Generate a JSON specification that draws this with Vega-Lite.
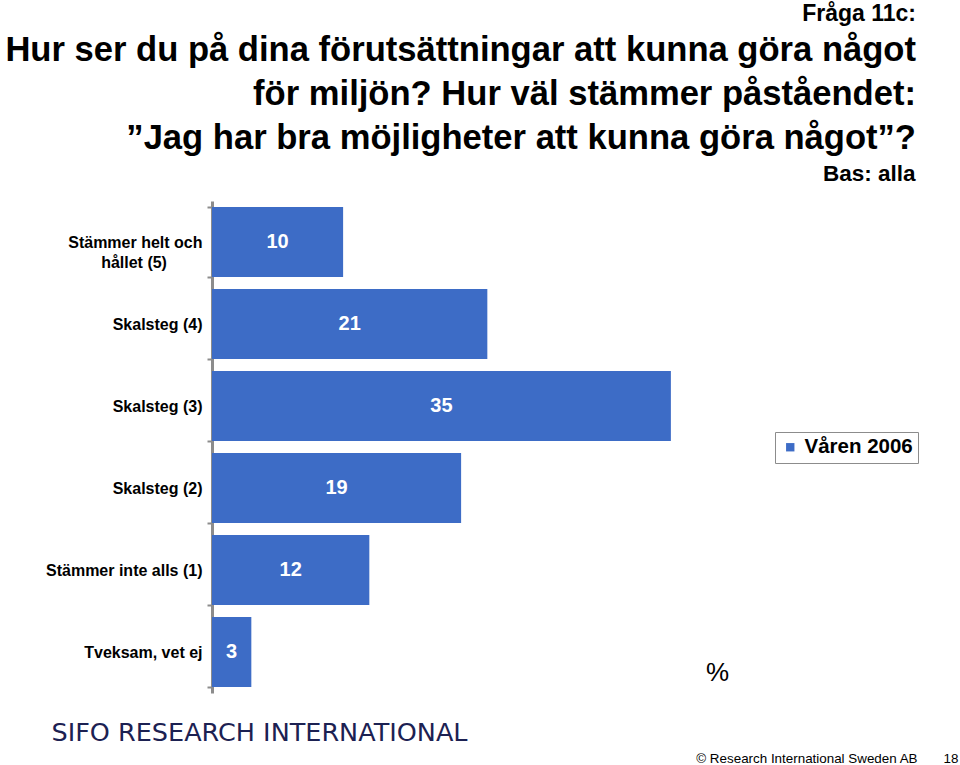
{
  "$schema": "https://vega.github.io/schema/vega-lite/v6.json",
  "width": 708,
  "height": 492,
  "autosize": {"type": "none"},
  "padding": {"left": 212, "top": 201, "right": 40, "bottom": 72},
  "background": "white",
  "title": {
    "text": "Fråga 11c:",
    "subtitle": ["Hur ser du på dina förutsättningar att kunna göra något", "för miljön? Hur väl stämmer påståendet:", "”Jag har bra möjligheter att kunna göra något”?"],
    "anchor": "end",
    "frame": "group",
    "orient": "top",
    "font": "Liberation Sans",
    "fontSize": 23,
    "fontWeight": "bold",
    "color": "black",
    "subtitleFont": "Liberation Sans",
    "subtitleFontSize": 34.6,
    "subtitleFontWeight": "bold",
    "subtitleColor": "black",
    "subtitleLineHeight": 44,
    "subtitlePadding": 8,
    "dx": -4,
    "offset": 6
  },
  "data": {
    "values": [
      {"kategori": "Stämmer helt och hållet (5)", "procent": 10, "serie": "Våren 2006"},
      {"kategori": "Skalsteg (4)", "procent": 21, "serie": "Våren 2006"},
      {"kategori": "Skalsteg (3)", "procent": 35, "serie": "Våren 2006"},
      {"kategori": "Skalsteg (2)", "procent": 19, "serie": "Våren 2006"},
      {"kategori": "Stämmer inte alls (1)", "procent": 12, "serie": "Våren 2006"},
      {"kategori": "Tveksam, vet ej", "procent": 3, "serie": "Våren 2006"}
    ]
  },
  "encoding": {
    "y": {
      "field": "kategori",
      "type": "nominal",
      "sort": null,
      "scale": {"paddingInner": 0.146, "paddingOuter": 0.073}
    }
  },
  "layer": [
    {
      "mark": {"type": "bar", "color": "#3d6cc6"},
      "encoding": {
        "x": {
          "field": "procent",
          "type": "quantitative",
          "scale": {"domain": [0, 54]},
          "axis": {
            "orient": "top",
            "labels": false,
            "ticks": false,
            "domain": false,
            "grid": false,
            "title": "Bas: alla",
            "titleFont": "Liberation Sans",
            "titleFontSize": 22.5,
            "titleFontWeight": "bold",
            "titleColor": "black",
            "titleAlign": "right",
            "titleBaseline": "middle",
            "titleX": 703,
            "titleY": -28
          }
        },
        "y": {
          "field": "kategori",
          "type": "nominal",
          "sort": null,
          "axis": {
            "orient": "left",
            "domainColor": "#8c8c8c",
            "domainWidth": 3,
            "tickColor": "#8c8c8c",
            "tickWidth": 2,
            "tickSize": 5,
            "tickBand": "extent",
            "labelPadding": 5,
            "labelFont": "Liberation Sans",
            "labelFontSize": 16,
            "labelFontWeight": "bold",
            "labelColor": "black",
            "labelLineHeight": 20,
            "labelLimit": 300,
            "labelExpr": "datum.value == 'Stämmer helt och hållet (5)' ? ['Stämmer helt och', 'hållet (5)\u00a0\u00a0\u00a0\u00a0\u00a0\u00a0\u00a0\u00a0\u200b'] : datum.value",
            "title": "SIFO RESEARCH INTERNATIONAL",
            "titleAngle": 0,
            "titleFont": "DejaVu Sans",
            "titleFontSize": 25.5,
            "titleFontWeight": "normal",
            "titleColor": "#1c2152",
            "titleAlign": "center",
            "titleBaseline": "middle",
            "titleX": 47,
            "titleY": 531
          }
        },
        "color": {
          "field": "serie",
          "type": "nominal",
          "scale": {"range": ["#3d6cc6"]},
          "legend": {
            "title": null,
            "orient": "none",
            "legendX": 563,
            "legendY": 231,
            "symbolType": "square",
            "symbolSize": 70,
            "labelFont": "Liberation Sans",
            "labelFontSize": 20.5,
            "labelFontWeight": "bold",
            "labelColor": "black",
            "strokeColor": "#8c8c8c",
            "fillColor": "white",
            "padding": 5,
            "cornerRadius": 0
          }
        }
      }
    },
    {
      "mark": {"type": "text", "color": "white", "font": "Liberation Sans", "fontSize": 20, "fontWeight": "bold", "align": "center", "baseline": "middle"},
      "encoding": {
        "x": {
          "field": "procent",
          "type": "quantitative",
          "scale": {"domain": [0, 108]},
          "axis": {
            "orient": "bottom",
            "labels": false,
            "ticks": false,
            "domain": false,
            "grid": false,
            "title": "%",
            "titleFont": "Liberation Sans",
            "titleFontSize": 26,
            "titleFontWeight": "normal",
            "titleColor": "black",
            "titleAlign": "center",
            "titleBaseline": "middle",
            "titleX": 505,
            "titleY": -21
          }
        },
        "y": {
          "field": "kategori",
          "type": "nominal",
          "sort": null,
          "axis": {
            "orient": "right",
            "labels": false,
            "ticks": false,
            "domain": false,
            "grid": false,
            "title": "© Research International Sweden AB\u00a0\u00a0\u00a0\u00a0\u00a0\u00a0\u00a018",
            "titleAngle": 0,
            "titleFont": "Liberation Sans",
            "titleFontSize": 13.4,
            "titleFontWeight": "normal",
            "titleColor": "black",
            "titleAlign": "right",
            "titleBaseline": "middle",
            "titleX": 38,
            "titleY": 557
          }
        },
        "text": {"field": "procent", "type": "quantitative"}
      }
    }
  ],
  "resolve": {"scale": {"x": "independent"}, "axis": {"x": "independent", "y": "independent"}},
  "config": {"view": {"stroke": null}}
}
